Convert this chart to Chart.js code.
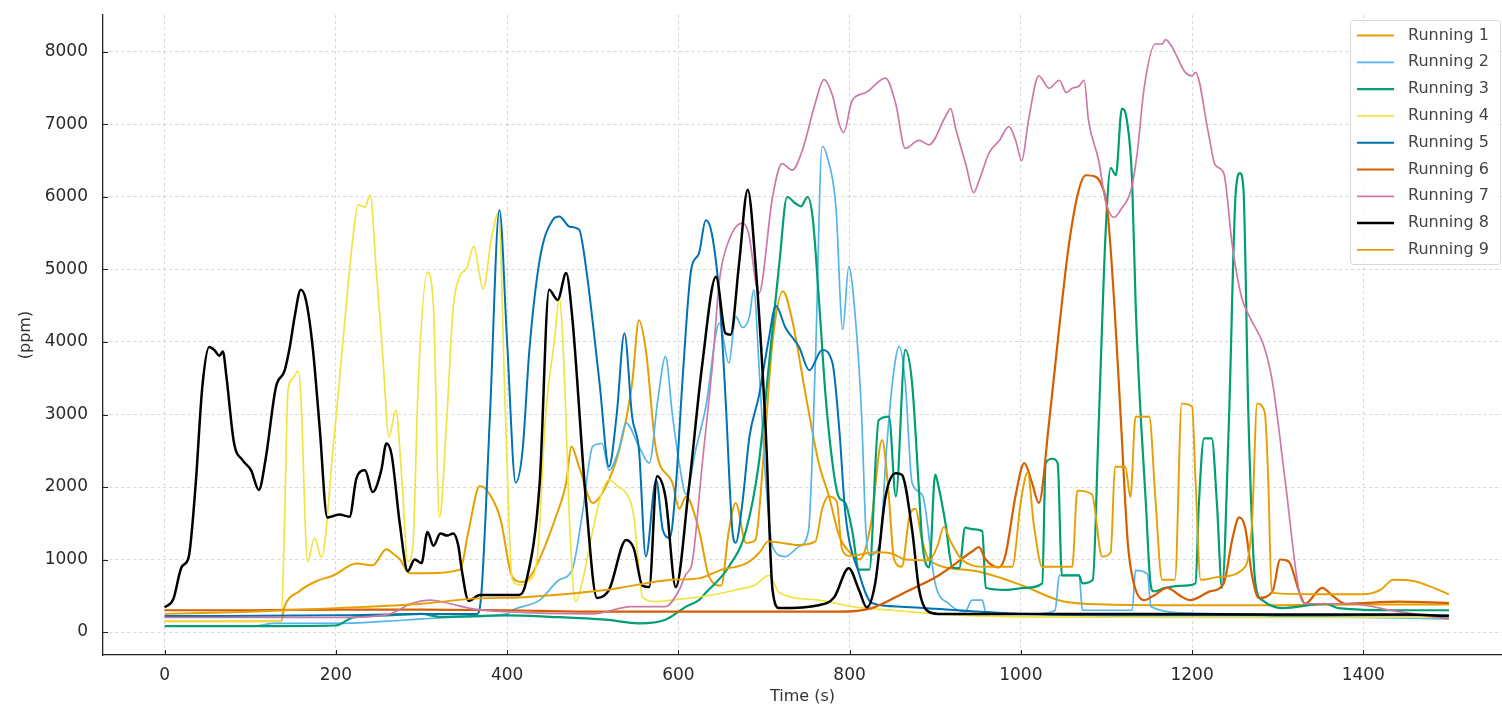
<!DOCTYPE html>
<html>
<head>
<meta charset="utf-8">
<script src="https://cdn.jsdelivr.net/npm/chart.js@4"></script>
<style>
  html, body { margin: 0; padding: 0; background: #fff; }
</style>
</head>
<body>
<canvas id="ppmChart" width="1502" height="708"></canvas>
<script>
// values: [time (s), ppm]
const run1 = [[0,150],[136,150],[140,350],[157,560],[177,700],[197,780],[224,945],[243,920],[259,1140],[267,1080],[275,1000],[286,810],[306,810],[345,860],[355,1400],[368,2010],[376,1960],[392,1570],[406,760],[418,690],[429,800],[457,1590],[469,2060],[475,2560],[484,2280],[500,1780],[515,2000],[531,2510],[546,3430],[554,4300],[562,3890],[574,2510],[593,2060],[601,1700],[609,1870],[624,1410],[636,760],[650,640],[659,1400],[667,1780],[679,1230],[690,1270],[700,2500],[710,4000],[722,4700],[733,4300],[749,3250],[764,2330],[776,1870],[788,1320],[800,1100],[812,1000],[825,1500],[838,2650],[845,2000],[852,1000],[861,900],[870,1600],[877,1700],[884,1300],[893,990],[943,850],[1000,650],[1050,420],[1100,380],[1200,370],[1300,370],[1400,380],[1500,380]];
const run2 = [[0,80],[100,80],[130,120],[200,120],[260,150],[300,180],[350,210],[400,250],[406,300],[438,440],[461,720],[476,860],[488,1640],[500,2560],[511,2600],[519,2230],[530,2500],[539,2880],[554,2560],[566,2330],[576,3200],[585,3800],[593,3000],[601,2330],[609,1900],[620,2500],[632,3100],[648,4260],[659,3710],[667,4350],[675,4200],[683,4350],[688,4720],[695,3500],[702,2100],[710,1180],[725,1040],[741,1180],[752,1400],[760,3710],[768,6700],[774,6550],[784,5870],[792,4170],[799,5040],[807,4300],[814,3000],[819,1400],[823,1060],[835,1200],[843,2500],[850,3440],[858,3940],[865,3440],[873,2060],[885,1890],[900,670],[916,390],[935,280],[943,440],[955,440],[959,280],[1021,250],[1040,300],[1045,780],[1068,780],[1072,300],[1130,300],[1134,850],[1148,800],[1152,350],[1200,260],[1300,220],[1400,200],[1500,180]];
const run3 = [[0,80],[100,80],[200,90],[220,200],[260,230],[300,250],[321,210],[400,230],[450,210],[515,170],[554,120],[585,170],[609,350],[624,440],[632,540],[659,900],[679,1400],[694,2330],[706,3710],[718,5090],[727,6000],[737,5910],[743,5870],[751,6000],[757,5700],[764,4620],[772,3250],[780,2330],[787,1870],[795,1780],[803,1400],[811,860],[823,860],[834,2920],[846,2970],[854,1870],[865,3890],[873,3430],[881,1960],[885,1220],[893,890],[900,2170],[904,2000],[912,1500],[920,890],[928,880],[935,1440],[943,1420],[955,1390],[959,610],[982,580],[1006,610],[1025,670],[1029,2330],[1037,2390],[1043,2330],[1048,780],[1068,780],[1072,670],[1084,720],[1091,2890],[1099,5500],[1105,6400],[1111,6300],[1118,7220],[1124,7050],[1130,6220],[1134,4560],[1138,3440],[1146,1780],[1151,720],[1155,560],[1169,610],[1192,640],[1204,670],[1208,1780],[1214,2670],[1223,2670],[1229,1780],[1235,610],[1243,2890],[1251,6060],[1256,6330],[1260,6110],[1266,2890],[1274,670],[1282,440],[1305,330],[1356,390],[1371,330],[1441,300],[1500,300]];
const run4 = [[0,150],[100,150],[136,150],[140,1500],[144,3320],[150,3500],[156,3600],[159,3270],[167,970],[175,1300],[183,1030],[197,2560],[208,3980],[220,5450],[226,5890],[234,5860],[240,6030],[247,5020],[255,3760],[262,2690],[270,3060],[277,2120],[284,970],[290,1190],[296,3380],[307,4960],[314,4470],[321,1580],[329,2830],[337,4470],[345,4910],[353,5020],[361,5320],[372,4730],[382,5450],[390,5780],[398,3000],[406,720],[415,650],[425,700],[435,1000],[445,3000],[455,4000],[461,4600],[467,3500],[473,1500],[480,420],[488,700],[500,1400],[510,1900],[519,2100],[530,2000],[540,1900],[548,1600],[553,1000],[558,480],[574,420],[600,450],[628,490],[667,580],[690,650],[706,780],[718,540],[764,440],[803,350],[850,300],[900,250],[1000,210],[1200,200],[1400,200],[1500,200]];
const run5 = [[0,220],[200,230],[300,250],[365,250],[370,540],[380,3000],[391,5820],[400,4000],[410,2060],[418,2500],[426,3890],[438,5130],[453,5680],[461,5730],[473,5590],[484,5550],[492,5040],[508,3430],[519,2280],[528,3000],[537,4120],[546,2970],[554,2510],[562,1040],[574,2100],[582,1400],[590,1300],[597,2000],[605,3500],[615,5000],[624,5220],[632,5680],[639,5500],[648,4620],[655,3250],[663,1410],[667,1230],[675,1800],[683,2690],[694,3250],[705,4000],[714,4500],[725,4200],[741,3930],[753,3610],[768,3890],[780,3710],[788,2790],[795,1640],[811,810],[826,400],[860,350],[900,320],[1000,250],[1200,230],[1500,230]];
const run6 = [[0,300],[100,300],[200,310],[300,310],[400,300],[500,280],[600,280],[700,280],[788,280],[826,330],[865,550],[904,780],[943,1110],[951,1170],[959,1000],[974,890],[982,1060],[994,1890],[1004,2330],[1013,2060],[1021,1780],[1033,2890],[1044,4110],[1056,5330],[1068,6110],[1076,6300],[1087,6280],[1093,6200],[1101,5830],[1109,4560],[1117,2890],[1125,1220],[1132,670],[1144,440],[1155,500],[1171,610],[1186,500],[1198,440],[1221,560],[1237,670],[1247,1280],[1255,1580],[1262,1440],[1270,780],[1278,470],[1294,560],[1303,1000],[1313,970],[1325,560],[1332,390],[1352,610],[1364,500],[1379,390],[1441,420],[1500,400]];
const run7 = [[0,200],[200,200],[260,240],[290,400],[310,440],[330,400],[360,320],[400,280],[500,250],[545,350],[585,350],[601,580],[609,800],[616,950],[628,2330],[640,3710],[648,4850],[659,5400],[675,5640],[682,5500],[694,4670],[710,6000],[721,6460],[733,6370],[745,6650],[760,7300],[770,7620],[780,7400],[788,7000],[793,6890],[803,7330],[819,7440],[842,7640],[854,7280],[865,6670],[881,6780],[893,6720],[912,7110],[918,7220],[924,6940],[936,6440],[945,6060],[951,6220],[963,6610],[975,6780],[986,6970],[994,6780],[1001,6500],[1009,7060],[1021,7670],[1033,7500],[1045,7610],[1053,7440],[1060,7500],[1068,7530],[1074,7610],[1079,7060],[1091,6500],[1099,5940],[1109,5720],[1117,5830],[1129,6110],[1136,6610],[1144,7500],[1157,8110],[1165,8110],[1169,8170],[1177,8060],[1192,7720],[1200,7670],[1204,7720],[1219,6890],[1227,6440],[1237,6330],[1247,5330],[1258,4610],[1268,4330],[1284,3940],[1294,3440],[1309,2060],[1325,560],[1332,390],[1383,390],[1441,280],[1500,180]];
const run8 = [[0,340],[10,450],[20,900],[28,1030],[36,2000],[44,3380],[52,3930],[58,3890],[64,3810],[68,3870],[72,3540],[81,2610],[91,2370],[101,2230],[110,1960],[118,2390],[130,3380],[140,3600],[146,3920],[152,4360],[159,4720],[165,4580],[173,3920],[181,2830],[190,1580],[197,1600],[204,1620],[216,1590],[224,2120],[234,2230],[243,1930],[253,2230],[259,2600],[265,2450],[275,1460],[284,840],[292,1000],[300,950],[307,1380],[314,1190],[322,1360],[330,1330],[337,1360],[343,1190],[347,860],[355,430],[368,510],[384,510],[400,510],[414,510],[422,680],[438,2050],[449,4720],[459,4580],[469,4950],[476,4350],[492,1820],[505,470],[519,580],[539,1270],[548,1150],[558,640],[566,620],[575,2150],[585,1860],[597,620],[612,1960],[628,3700],[644,4900],[655,4120],[661,4100],[671,5090],[681,6100],[690,5090],[702,2790],[710,580],[718,330],[764,370],[782,480],[799,880],[811,580],[820,340],[830,680],[842,1870],[854,2190],[861,2170],[873,1410],[881,600],[890,300],[904,250],[1000,250],[1140,250],[1300,240],[1450,240],[1500,220]];
const run9 = [[0,250],[100,280],[200,330],[300,390],[360,460],[420,480],[515,580],[593,720],[624,740],[651,860],[680,950],[695,1100],[705,1250],[720,1230],[740,1200],[760,1250],[768,1700],[775,1870],[785,1800],[791,1150],[800,1050],[830,1100],[850,1080],[865,1000],[893,990],[903,1200],[910,1450],[918,1250],[931,1000],[960,900],[990,900],[1000,1800],[1008,2200],[1015,1500],[1025,900],[1060,900],[1066,1950],[1083,1900],[1095,1040],[1105,1100],[1110,2280],[1122,2280],[1128,1860],[1134,2970],[1150,2970],[1157,1870],[1165,720],[1180,720],[1188,3150],[1200,3110],[1204,2100],[1210,720],[1231,760],[1262,900],[1270,1500],[1276,3150],[1285,3020],[1289,2100],[1293,540],[1350,520],[1400,520],[1420,580],[1435,720],[1460,700],[1480,620],[1500,520]];

const runs = [run1, run2, run3, run4, run5, run6, run7, run8, run9];
const names = ["Running 1", "Running 2", "Running 3", "Running 4", "Running 5", "Running 6", "Running 7", "Running 8", "Running 9"];
const colors = ["#E69F00", "#56B4E9", "#009E73", "#F0E442", "#0072B2", "#D55E00", "#CC79A7", "#000000", "#E69F00"];
const widths = [2, 1.7, 2.2, 1.7, 2, 2.2, 1.7, 2.5, 1.9];
const xTicks = [0, 200, 400, 600, 800, 1000, 1200, 1400];
const yTicks = [0, 1000, 2000, 3000, 4000, 5000, 6000, 7000, 8000];

const font = "DejaVu Sans";

// matplotlib style ticks pointing into the plot
const innerTicks = {
  id: "innerTicks",
  afterDatasetsDraw(chart) {
    const { ctx, chartArea, scales } = chart;
    ctx.save();
    ctx.strokeStyle = "#222";
    ctx.lineWidth = 1;
    xTicks.forEach((v) => {
      const px = Math.round(scales.x.getPixelForValue(v)) + 0.5;
      ctx.beginPath();
      ctx.moveTo(px, chartArea.bottom);
      ctx.lineTo(px, chartArea.bottom - 5);
      ctx.stroke();
    });
    yTicks.forEach((v) => {
      const py = Math.round(scales.y.getPixelForValue(v)) + 0.5;
      ctx.beginPath();
      ctx.moveTo(chartArea.left, py);
      ctx.lineTo(chartArea.left + 5, py);
      ctx.stroke();
    });
    ctx.restore();
  },
};

const boxLegend = {
  id: "boxLegend",
  afterDraw(chart) {
    const ctx = chart.ctx;
    const x0 = 1350, y0 = 20, w = 150, h = 244;
    ctx.save();
    ctx.fillStyle = "rgba(255,255,255,0.85)";
    ctx.strokeStyle = "#d8d8d8";
    ctx.lineWidth = 1;
    ctx.beginPath();
    ctx.roundRect(x0 + 0.5, y0 + 0.5, w, h, 3);
    ctx.fill();
    ctx.stroke();
    ctx.font = `16px "${font}"`;
    ctx.textBaseline = "middle";
    chart.data.datasets.forEach((ds, i) => {
      const y = 35.5 + i * 26.8;
      ctx.strokeStyle = ds.borderColor;
      ctx.lineWidth = ds.borderWidth;
      ctx.beginPath();
      ctx.moveTo(1357, y);
      ctx.lineTo(1394, y);
      ctx.stroke();
      ctx.fillStyle = "#444";
      ctx.fillText(ds.label, 1408, y);
    });
    ctx.restore();
  },
};

new Chart(document.getElementById("ppmChart"), {
  type: "line",
  data: {
    datasets: runs.map((r, i) => ({
      label: names[i],
      data: r,
      borderColor: colors[i],
      borderWidth: widths[i],
      pointRadius: 0,
      fill: false,
      cubicInterpolationMode: "monotone",
      order: runs.length - i,
    })),
  },
  options: {
    responsive: false,
    animation: false,
    layout: { padding: { top: 15, right: 0, left: 0, bottom: 0 } },
    plugins: {
      legend: { display: false },
      tooltip: { enabled: false },
    },
    scales: {
      x: {
        type: "linear",
        min: -72,
        max: 1562,
        afterBuildTicks: (s) => { s.ticks = xTicks.map((v) => ({ value: v })); },
        afterFit: (s) => { s.height = 53; s.paddingLeft = 0; s.paddingRight = 0; },
        grid: { color: "rgba(0,0,0,0.2)", lineWidth: 0.8, drawTicks: false },
        border: { display: true, color: "#222", width: 1.3, dash: [3, 3] },
        ticks: { padding: 10, color: "#2a2a2a", font: { family: font, size: 17 }, maxRotation: 0, callback: (v) => String(v) },
        title: { display: true, text: "Time (s)", color: "#333", font: { family: font, size: 16 }, padding: { top: 0, bottom: 2 } },
      },
      y: {
        min: -317,
        max: 8510,
        afterBuildTicks: (s) => { s.ticks = yTicks.map((v) => ({ value: v })); },
        afterFit: (s) => { s.width = 103; s.paddingTop = 0; s.paddingBottom = 0; },
        grid: { color: "rgba(0,0,0,0.2)", lineWidth: 0.8, drawTicks: false },
        border: { display: true, color: "#222", width: 1.3, dash: [3, 3] },
        ticks: { padding: 15, color: "#2a2a2a", font: { family: font, size: 17 }, callback: (v) => String(v) },
        title: { display: true, text: "(ppm)", color: "#333", font: { family: font, size: 16 }, padding: { top: 16, bottom: 0 } },
      },
    },
  },
  plugins: [innerTicks, boxLegend],
});
</script>
</body>
</html>
